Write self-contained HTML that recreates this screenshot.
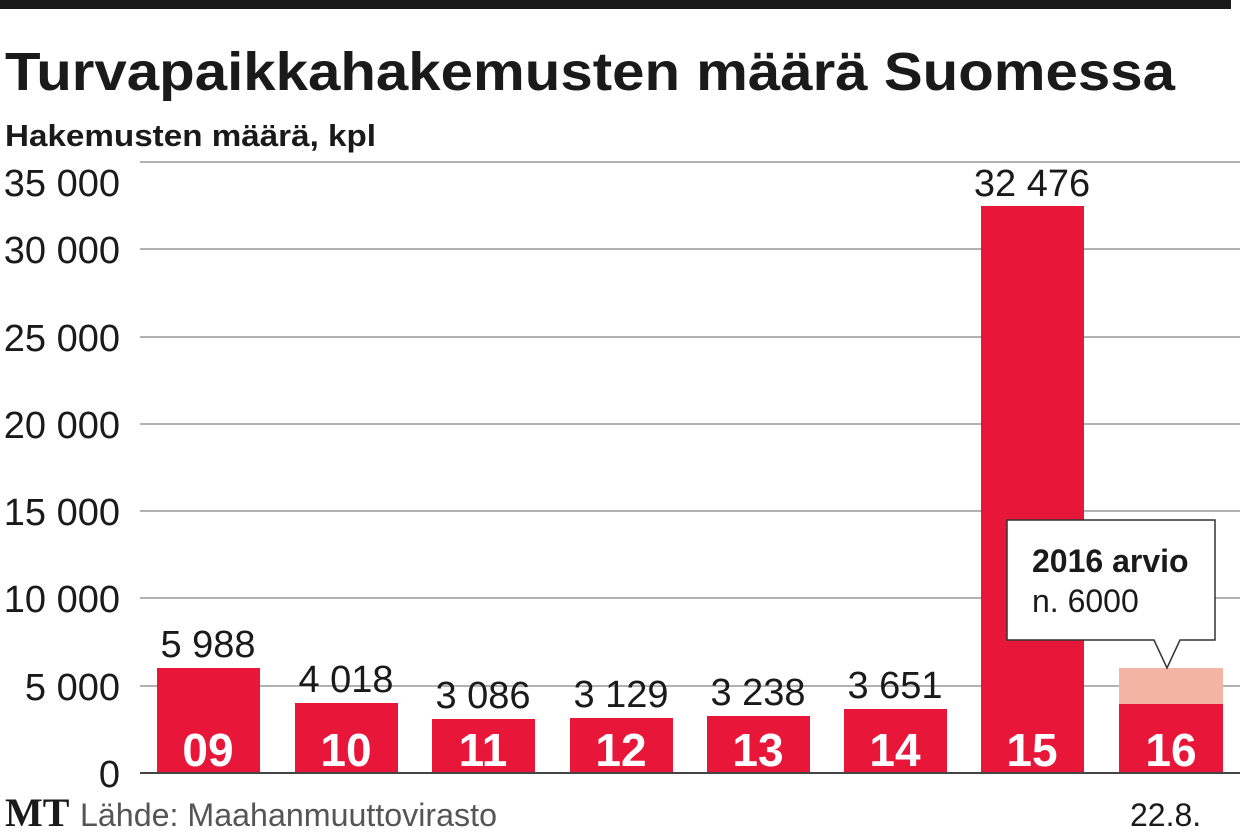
<!DOCTYPE html>
<html><head><meta charset="utf-8"><style>
html,body{margin:0;padding:0;background:#fff;width:1240px;height:835px;overflow:hidden}
svg{display:block}
</style></head><body>
<svg width="1240" height="835" xmlns="http://www.w3.org/2000/svg" font-family="'Liberation Sans Narrow','Liberation Sans',sans-serif">
<rect x="0" y="0" width="1231" height="9" fill="#1a1a1a"/>
<text x="5" y="90" font-size="54" font-weight="bold" fill="#1a1a1a" textLength="1170" lengthAdjust="spacingAndGlyphs">Turvapaikkahakemusten määrä Suomessa</text>
<text x="5" y="146" font-size="31" font-weight="bold" fill="#1a1a1a" textLength="371" lengthAdjust="spacingAndGlyphs">Hakemusten määrä, kpl</text>
<g stroke="#999" stroke-width="1.5">
<line x1="140" x2="1240" y1="162" y2="162"/>
<line x1="140" x2="1240" y1="249" y2="249"/>
<line x1="140" x2="1240" y1="337" y2="337"/>
<line x1="140" x2="1240" y1="424" y2="424"/>
<line x1="140" x2="1240" y1="511" y2="511"/>
<line x1="140" x2="1240" y1="598" y2="598"/>
<line x1="140" x2="1240" y1="686" y2="686"/>
</g>
<g font-size="38" fill="#1a1a1a" text-anchor="end">
<text x="120" y="196">35 000</text>
<text x="120" y="263">30 000</text>
<text x="120" y="351">25 000</text>
<text x="120" y="438">20 000</text>
<text x="120" y="525">15 000</text>
<text x="120" y="612">10 000</text>
<text x="120" y="700">5 000</text>
<text x="120" y="787">0</text>
</g>
<g fill="#e8173a">
<rect x="157" y="668" width="103" height="105"/>
<rect x="295" y="703" width="103" height="70"/>
<rect x="432" y="719" width="103" height="54"/>
<rect x="570" y="718" width="103" height="55"/>
<rect x="707" y="716" width="103" height="57"/>
<rect x="844" y="709" width="103" height="64"/>
<rect x="981" y="206" width="103" height="567"/>
<rect x="1119" y="704" width="104" height="69"/>
</g>
<rect x="1119" y="668" width="104" height="36" fill="#f4b4a4"/>
<line x1="140" x2="1240" y1="773" y2="773" stroke="#444" stroke-width="2"/>
<g font-size="38" fill="#1a1a1a" text-anchor="middle">
<text x="208" y="657">5 988</text>
<text x="346" y="692">4 018</text>
<text x="483" y="708">3 086</text>
<text x="621" y="707">3 129</text>
<text x="758" y="705">3 238</text>
<text x="895" y="698">3 651</text>
<text x="1032" y="196">32 476</text>
</g>
<g font-size="46" font-weight="bold" fill="#fff" text-anchor="middle">
<text x="208" y="766">09</text>
<text x="346" y="766">10</text>
<text x="483" y="766">11</text>
<text x="621" y="766">12</text>
<text x="758" y="766">13</text>
<text x="895" y="766">14</text>
<text x="1032" y="766">15</text>
<text x="1171" y="766">16</text>
</g>
<path d="M1007,520 H1215 V640 H1180 L1167,668 L1154,640 H1007 Z" fill="#fff" stroke="#333" stroke-width="1.5"/>
<text x="1032" y="572" font-size="32" font-weight="bold" fill="#1a1a1a">2016 arvio</text>
<text x="1032" y="612" font-size="32" fill="#1a1a1a">n. 6000</text>
<text x="5" y="826" font-family="'Liberation Serif',serif" font-size="40" font-weight="bold" fill="#1a1a1a">MT</text>
<text x="80" y="826" font-size="32" fill="#555" textLength="417" lengthAdjust="spacingAndGlyphs">Lähde: Maahanmuuttovirasto</text>
<text x="1130" y="826" font-size="32" fill="#1a1a1a">22.8.</text>
</svg>
</body></html>
